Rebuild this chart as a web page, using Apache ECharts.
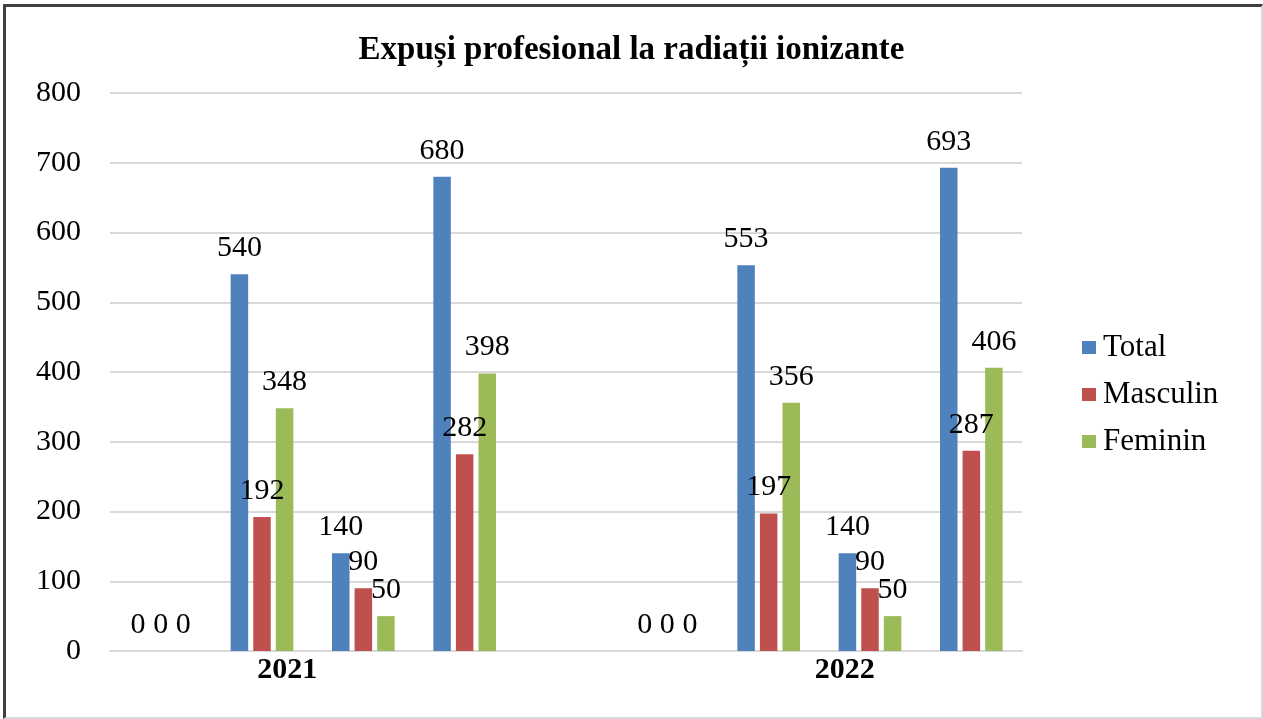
<!DOCTYPE html>
<html>
<head>
<meta charset="utf-8">
<script src="https://cdn.jsdelivr.net/npm/echarts@6/dist/echarts.min.js"></script>
<style>
  html, body { margin: 0; padding: 0; background: #fff; }
  #chart { position: absolute; left: 0; top: 0; width: 1263px; height: 719px; }
  #frame { position: absolute; left: 3px; top: 4px; width: 1255px; height: 710px;
           border-top: 3px solid #404040; border-left: 3px solid #404040;
           border-right: 2px solid #d9d9d9; border-bottom: 2px solid #d9d9d9;
           pointer-events: none; }
</style>
</head>
<body>
<div id="chart"></div>
<div id="frame"></div>
<script>
// ---- data ----
const chartTitle = 'Expuși profesional la radiații ionizante';
const years = ['2021', '2022'];
// 4 sub-groups per year, with an empty slot between the years
const categories = ['2021-a', '2021-b', '2021-c', '2021-d', '', '2022-a', '2022-b', '2022-c', '2022-d'];
const seriesNames = ['Total', 'Masculin', 'Feminin'];
const totalValues    = [0, 540, 140, 680, '-', 0, 553, 140, 693];
const masculinValues = [0, 192,  90, 282, '-', 0, 197,  90, 287];
const femininValues  = [0, 348,  50, 398, '-', 0, 356,  50, 406];
const yTicks = [0, 100, 200, 300, 400, 500, 600, 700, 800];

const colors = ['#4F81BD', '#C0504D', '#9BBB59'];
const FONT = '"Liberation Serif", "Times New Roman", serif';

// year label axis: half-slot resolution
const yearAxisCats = [];
for (let i = 0; i < categories.length * 2; i++) yearAxisCats.push('');
yearAxisCats[3] = years[0];
yearAxisCats[14] = years[1];

const chart = echarts.init(document.getElementById('chart'), null, { renderer: 'canvas' });

function barSeries(name, data, idx) {
  return {
    name: name,
    type: 'bar',
    data: data,
    barWidth: 17.5,
    barGap: '29%',
    itemStyle: { color: colors[idx] },
    label: {
      show: true,
      position: 'top',
      distance: 11,
      fontFamily: FONT,
      fontSize: 30,
      color: '#000'
    },
    emphasis: { disabled: true },
    animation: false
  };
}

chart.setOption({
  animation: false,
  title: {
    text: chartTitle,
    left: 'center',
    top: 29,
    textStyle: { fontFamily: FONT, fontSize: 33, fontWeight: 'bold', color: '#000' }
  },
  legend: {
    data: seriesNames,
    orient: 'vertical',
    left: 1077,
    top: 327,
    icon: 'rect',
    itemWidth: 14,
    itemHeight: 13,
    itemGap: 16,
    textStyle: { fontFamily: FONT, fontSize: 31, lineHeight: 31, color: '#000', padding: [0, 0, 0, 2] }
  },
  grid: { left: 110, right: 241, top: 93, bottom: 68, containLabel: false },
  xAxis: [
    {
      type: 'category',
      data: categories,
      axisLine: { show: true, lineStyle: { color: '#d9d9d9', width: 2 } },
      axisTick: { show: false },
      axisLabel: { show: false },
      splitLine: { show: false }
    },
    {
      type: 'category',
      data: yearAxisCats,
      position: 'bottom',
      axisLine: { show: false },
      axisTick: { show: false },
      axisLabel: {
        show: true,
        interval: 0,
        margin: 4,
        fontFamily: FONT,
        fontSize: 30,
        fontWeight: 'bold',
        color: '#000'
      },
      splitLine: { show: false }
    }
  ],
  yAxis: {
    type: 'value',
    min: yTicks[0],
    max: yTicks[yTicks.length - 1],
    interval: 100,
    axisLine: { show: false },
    axisTick: { show: false },
    axisLabel: { margin: 29, fontFamily: FONT, fontSize: 30, color: '#000' },
    splitLine: { lineStyle: { color: '#d9d9d9', width: 2 } }
  },
  series: [
    barSeries(seriesNames[0], totalValues, 0),
    barSeries(seriesNames[1], masculinValues, 1),
    barSeries(seriesNames[2], femininValues, 2)
  ]
});
</script>
</body>
</html>
